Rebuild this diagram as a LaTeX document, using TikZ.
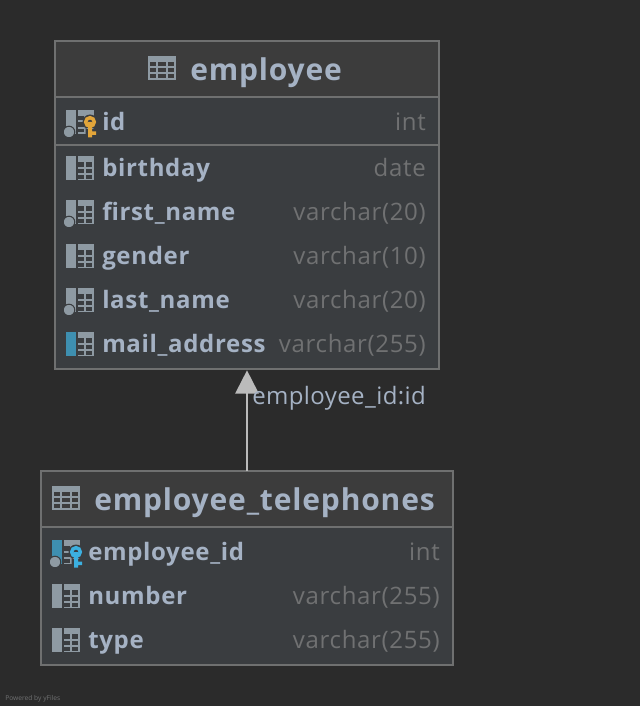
\documentclass[tikz,border=0pt]{standalone}
\usepackage{fontspec}
\setmainfont{Open Sans}
\newfontfamily\spacedfont[LetterSpace=2.8]{Open Sans}
\newfontfamily\labelfont[LetterSpace=1.7]{Open Sans}
\usetikzlibrary{arrows.meta}
\definecolor{canvasbg}{HTML}{2B2B2B}
\definecolor{headbg}{HTML}{3C3C3C}
\definecolor{bodybg}{HTML}{3A3D40}
\definecolor{frameline}{HTML}{6F7070}
\definecolor{relline}{HTML}{BBBBBB}
\definecolor{nametext}{HTML}{A5B2C4}
\definecolor{typetext}{HTML}{707172}
\definecolor{icongray}{HTML}{8E9AA3}
\definecolor{iconblue}{HTML}{3E8FB0}
\definecolor{keygold}{HTML}{E2A53A}
\definecolor{keyblue}{HTML}{3CB0E0}
\tikzset{
	tablebox/.style={draw=frameline, line width=1.5pt, fill=bodybg, inner sep=0pt, outer sep=0pt, anchor=north west},
	tablehead/.style={tablebox, fill=headbg},
	tabletitle/.style={text=nametext, font=\fontsize{22.5}{24}\spacedfont\bfseries, anchor=base west, inner sep=0pt},
	colname/.style={text=nametext, font=\fontsize{18}{20}\spacedfont\bfseries, anchor=base west, inner sep=0pt},
	coltype/.style={text=typetext, font=\fontsize{18}{20}\spacedfont, anchor=base east, inner sep=0pt},
	fklabel/.style={text=nametext, font=\fontsize{18}{20}\labelfont, anchor=base west, inner sep=0pt},
	relation/.style={draw=relline, line width=1.5pt, shorten >=1pt, -{Triangle[length=17.5pt,width=17.5pt]}}
}
% column icon, #3 = colour of the bar
\newcommand{\colicon}[3]{
	\fill[#3] (#1-12,#2-12) rectangle (#1-2,#2+12);
	\fill[icongray] (#1,#2-12) rectangle (#1+16,#2+12);
	\foreach \yy/\yz in {-6/-1.5,0.5/5,7/10.5} {
		\fill[bodybg] (#1,#2+\yy) rectangle (#1+6,#2+\yz);
		\fill[bodybg] (#1+8,#2+\yy) rectangle (#1+14,#2+\yz);
	}
}
% table icon of the header
\newcommand{\headicon}[2]{
	\fill[icongray] (#1,#2-12) rectangle (#1+28,#2+12);
	\foreach \yy in {-6,0,6} \foreach \xx/\xz in {2/8,10/18,20/26}
		\fill[headbg] (#1+\xx,#2+\yy) rectangle (#1+\xz,#2+\yy+4);
}
% not null dot
\newcommand{\notnull}[2]{\fill[icongray,draw=bodybg,line width=0.8pt] (#1-9,#2+10) circle (5.8);}
% key, #3 = colour
\newcommand{\keyicon}[3]{
	\fill[bodybg] (#1+12,#2) circle (7.5) (#1+7.5,#2+6) rectangle (#1+17,#2+17);
	\fill[#3] (#1+10,#2) rectangle (#1+14,#2+15.5) (#1+14,#2+9.5) rectangle (#1+18,#2+13);
	\draw[#3,line width=2.6pt] (#1+12,#2) circle (4.3);
}
\begin{document}
\begin{tikzpicture}[x=0.75pt,y=-0.75pt]
	\useasboundingbox (0,0) rectangle (640,706);
	\fill[canvasbg] (0,0) rectangle (640,706);

	% employee
	\node[tablebox, minimum width=288pt, minimum height=246pt] (employee) at (55,41) {};
	\node[tablehead, minimum width=288pt, minimum height=42pt] (employeehead) at (55,41) {};
	\node[tablebox, minimum width=288pt, minimum height=36pt] (employeekey) at (55,97) {};
	\headicon{148}{68}
	\node[tabletitle] (employeetitle) at (190,81) {employee};

	\colicon{78}{122}{icongray}\notnull{78}{122}\keyicon{78}{122}{keygold}
	\node[colname] (idname) at (102,131) {id};
	\node[coltype] (idtype) at (426,131) {int};
	\colicon{78}{168}{icongray}
	\node[colname] (birthdayname) at (102,176) {birthday};
	\node[coltype] (birthdaytype) at (426,176) {date};
	\colicon{78}{212}{icongray}\notnull{78}{212}
	\node[colname] (firstname) at (102,220) {first\_name};
	\node[coltype] (firsttype) at (426,220) {varchar(20)};
	\colicon{78}{256}{icongray}
	\node[colname] (gendername) at (102,264) {gender};
	\node[coltype] (gendertype) at (426,264) {varchar(10)};
	\colicon{78}{300}{icongray}\notnull{78}{300}
	\node[colname] (lastname) at (102,308) {last\_name};
	\node[coltype] (lasttype) at (426,308) {varchar(20)};
	\colicon{78}{344}{iconblue}
	\node[colname] (mailname) at (102,352) {mail\_address};
	\node[coltype] (mailtype) at (426,352) {varchar(255)};

	% employee_telephones
	\node[tablebox, minimum width=309pt, minimum height=145.5pt] (telephones) at (41,471) {};
	\node[tablehead, minimum width=309pt, minimum height=42pt] (telephoneshead) at (41,471) {};
	\headicon{52}{498}
	\node[tabletitle] (telephonestitle) at (94,510) {employee\_telephones};

	\colicon{64}{552}{iconblue}\notnull{64}{552}\keyicon{64}{552}{keyblue}
	\node[colname] (empidname) at (88,560) {employee\_id};
	\node[coltype] (empidtype) at (440,560) {int};
	\colicon{64}{596}{icongray}
	\node[colname] (numbername) at (88,604) {number};
	\node[coltype] (numbertype) at (440,604) {varchar(255)};
	\colicon{64}{640}{icongray}
	\node[colname] (typename) at (88,648) {type};
	\node[coltype] (typetype) at (440,648) {varchar(255)};

	% relation
	\draw[relation] (telephoneshead.north) -- (employee.south);
	\node[fklabel] (fklab) at (252,404) {employee\_id:id};

	\node[text=typetext, font=\fontsize{5}{6}\selectfont, anchor=base west, inner sep=0pt] (poweredby) at (5,700) {Powered by yFiles};
\end{tikzpicture}
\end{document}
